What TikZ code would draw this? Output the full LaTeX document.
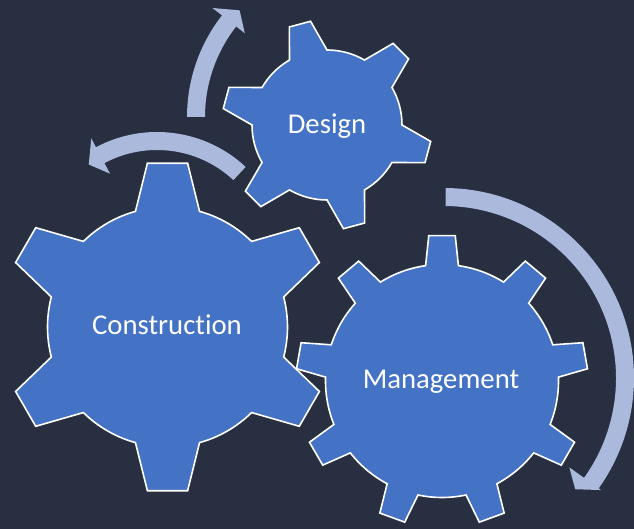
\documentclass[tikz,border=0pt]{standalone}
\usepackage{fontspec}
\setmainfont{Carlito}[Ligatures=NoCommon]
\definecolor{bgnavy}{RGB}{39,47,64}
\definecolor{gearblue}{RGB}{68,114,196}
\definecolor{arrowlilac}{RGB}{171,185,221}
\tikzset{
  gearstyle/.style={fill=gearblue, draw=white, line width=1.6pt, line join=miter},
  arrowband/.style={fill=arrowlilac},
  gearlabel/.style={text=white, anchor=base, inner sep=0pt,
    font=\fontsize{28.7}{34}\selectfont}
}
% gear: center x, center y, teeth, first tooth angle, body radius,
% tip radius, half angle at tooth base, half angle at tooth tip
\newcommand\drawgear[8]{%
  \pgfmathsetmacro\gstep{360/#3}%
  \draw[gearstyle, shift={(#1,#2)}] (#4-#7:#5)
    \foreach \k in {1,...,#3}{
      -- ({#4+(\k-1)*\gstep-#8}:#6) -- ({#4+(\k-1)*\gstep+#8}:#6)
      -- ({#4+(\k-1)*\gstep+#7}:#5)
      arc[start angle={#4+(\k-1)*\gstep+#7}, end angle={#4+\k*\gstep-#7}, radius=#5]
    } -- cycle;
}
\begin{document}
\begin{tikzpicture}[x=1pt, y=1pt]
  \fill[bgnavy] (0,0) rectangle (634,529);
  \useasboundingbox (0,0) rectangle (634,529);

  % curved arrows
  \fill[arrowband, shift={(352,412)}]
    (180:165) arc[start angle=180, end angle=142, radius=165]
    -- (142:177) -- (136.5:155) -- (142:136) -- (142:147)
    arc[start angle=142, end angle=180, radius=147] -- cycle;
  \fill[arrowband, shift={(157,267)}]
    (47:130) arc[start angle=47, end angle=118, radius=130]
    -- (118:140) -- (125:119) -- (118:100) -- (118:112)
    arc[start angle=118, end angle=47, radius=112] -- cycle;
  \fill[arrowband, shift={(444,151)}]
    (89.5:190) arc[start angle=89.5, end angle=-35.5, radius=190]
    -- (-35.5:193) -- (-40.3:172) -- (-35.5:154) -- (-35.5:172)
    arc[start angle=-35.5, end angle=89.5, radius=172] -- cycle;

  % gears
  \drawgear{442}{148}{9}{90}{116.5}{146}{8.1}{5.2}
  \drawgear{167.5}{202}{6}{90}{120}{165}{15.5}{7}
  \drawgear{327}{404}{6}{105}{75}{105}{15}{6}

  % labels
  \node[gearlabel] (construction) at (167,194) {Construction};
  \node[gearlabel] (management) at (441,140.7) {Management};
  \node[gearlabel] (design) at (327,395.7) {Design};
\end{tikzpicture}
\end{document}
